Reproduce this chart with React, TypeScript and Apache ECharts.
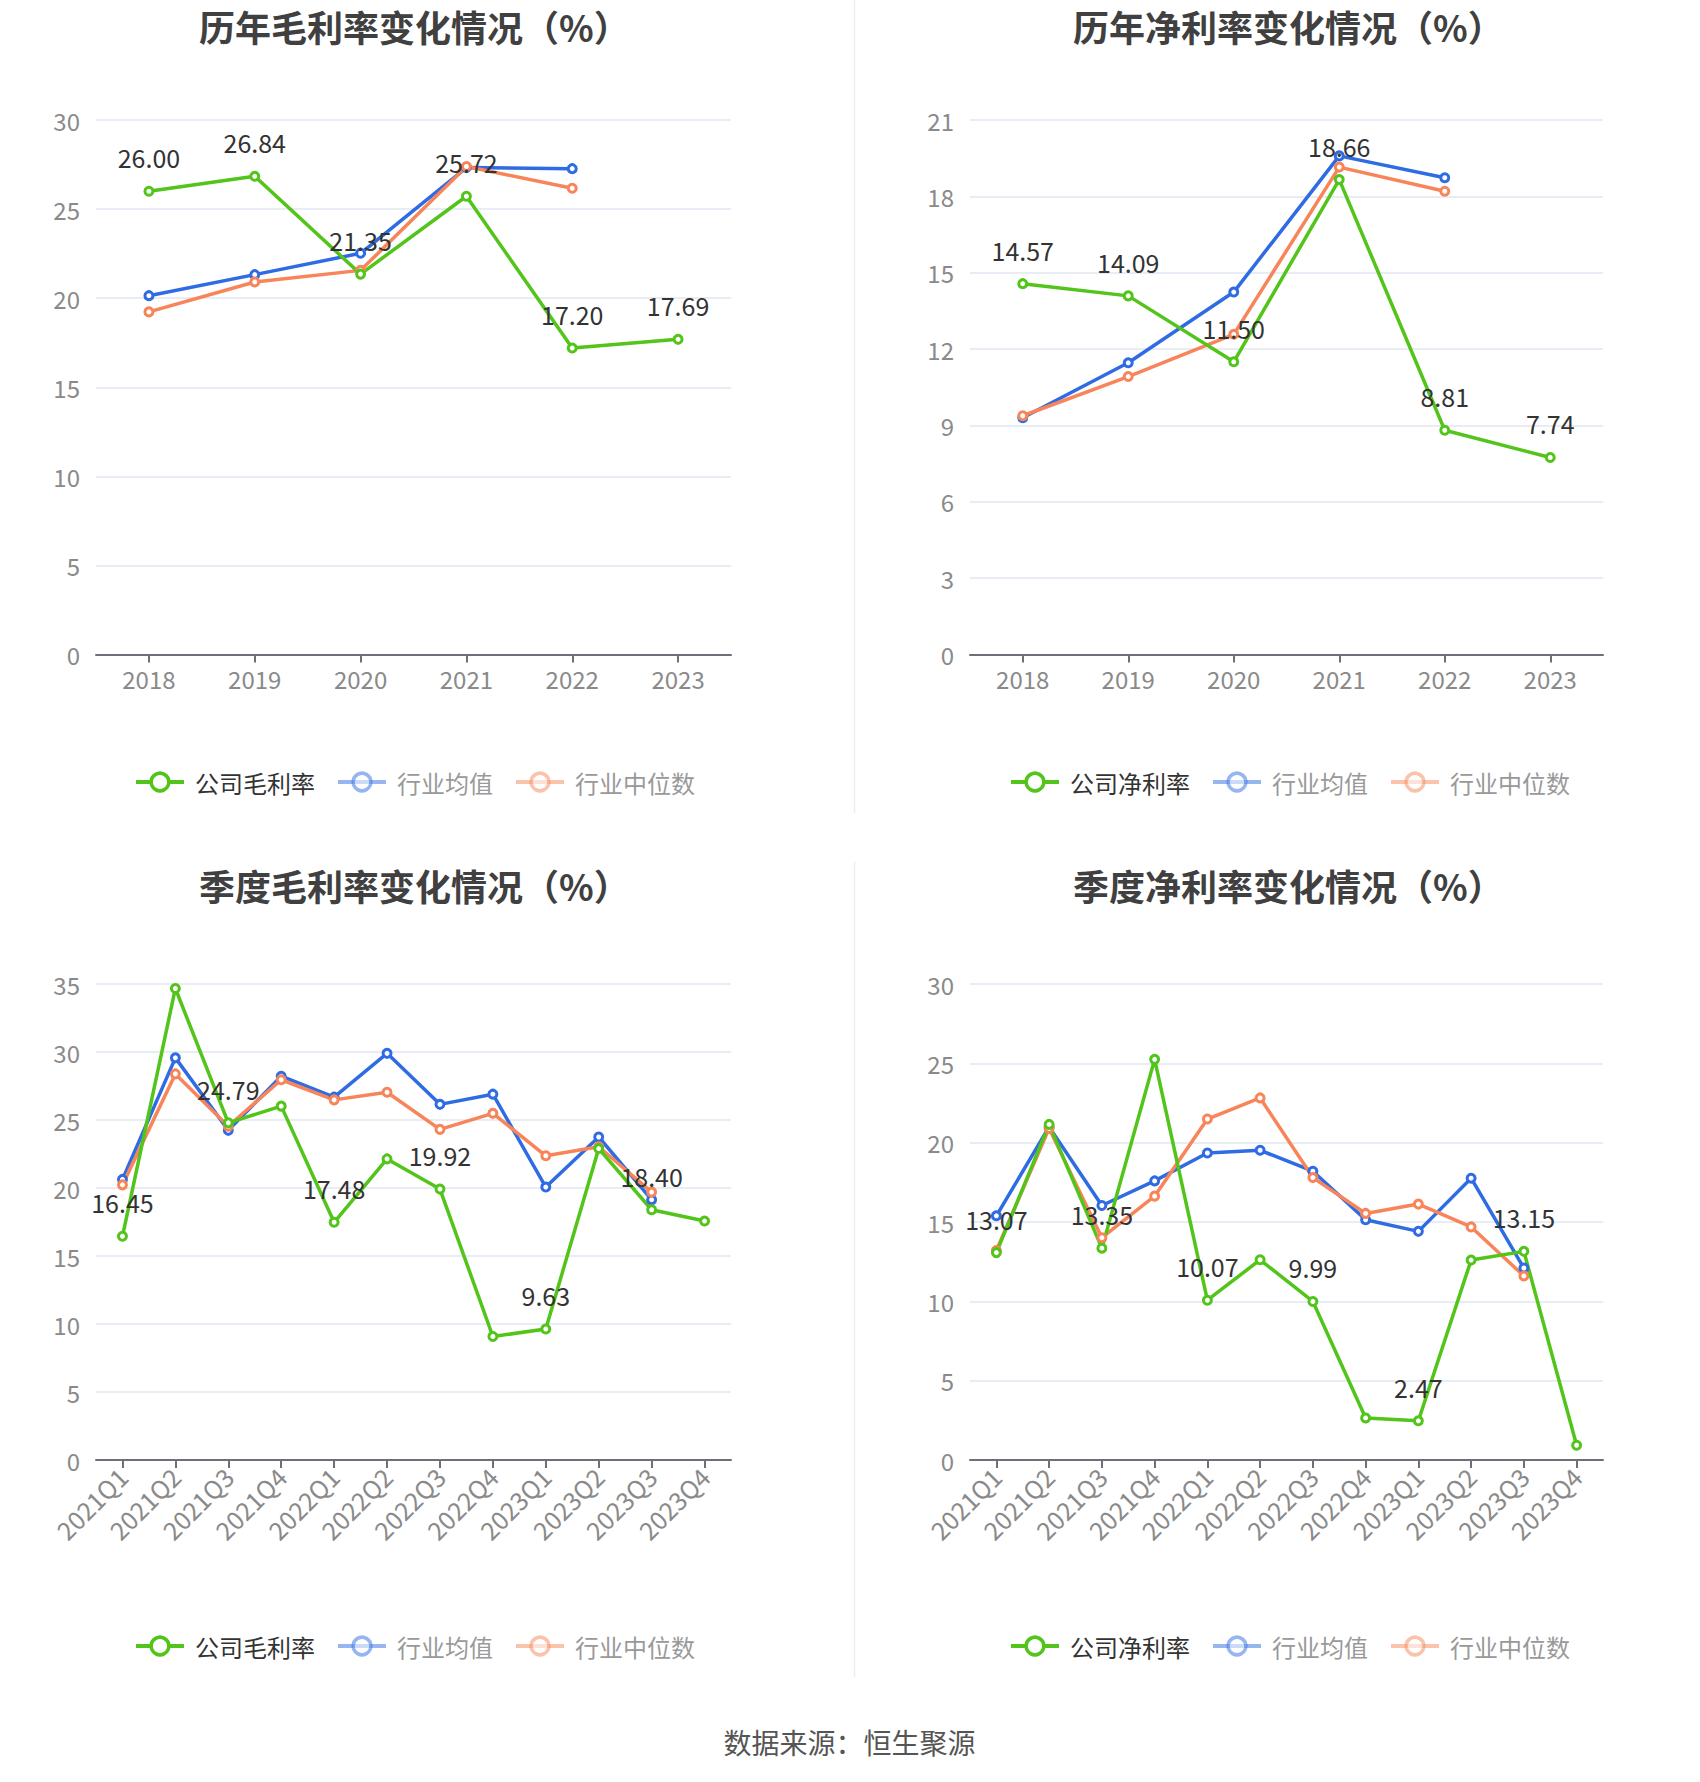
import React, { useEffect, useRef } from "react";
import * as echarts from "echarts";

const FONT = '"Noto Sans CJK SC", "Noto Sans", sans-serif';

const years = ["2018", "2019", "2020", "2021", "2022", "2023"];
const quarters = [
  "2021Q1", "2021Q2", "2021Q3", "2021Q4",
  "2022Q1", "2022Q2", "2022Q3", "2022Q4",
  "2023Q1", "2023Q2", "2023Q3", "2023Q4",
];

// 历年毛利率
const annualGrossCompany = [26.0, 26.84, 21.35, 25.72, 17.2, 17.69];
const annualGrossAvg = [20.14, 21.32, 22.52, 27.33, 27.27, null];
const annualGrossMedian = [19.23, 20.91, 21.56, 27.39, 26.17, null];

// 历年净利率
const annualNetCompany = [14.57, 14.09, 11.5, 18.66, 8.81, 7.74];
const annualNetAvg = [9.3, 11.46, 14.24, 19.59, 18.73, null];
const annualNetMedian = [9.38, 10.92, 12.58, 19.15, 18.2, null];

// 季度毛利率
const qGrossCompany = [16.45, 34.67, 24.79, 26.02, 17.48, 22.14, 19.92, 9.08, 9.63, 22.9, 18.4, 17.57];
const qGrossAvg = [20.63, 29.57, 24.24, 28.22, 26.68, 29.9, 26.15, 26.9, 20.07, 23.75, 19.14, null];
const qGrossMedian = [20.23, 28.39, 24.54, 27.96, 26.48, 27.04, 24.31, 25.49, 22.37, 23.03, 19.7, null];

// 季度净利率
const qNetCompany = [13.07, 21.15, 13.35, 25.25, 10.07, 12.62, 9.99, 2.65, 2.47, 12.6, 13.15, 0.93];
const qNetAvg = [15.39, 20.99, 16.04, 17.59, 19.35, 19.52, 18.2, 15.14, 14.41, 17.76, 12.1, null];
const qNetMedian = [13.2, 20.9, 14.01, 16.63, 21.49, 22.82, 17.8, 15.54, 16.13, 14.69, 11.6, null];

const annualLabelIdx = [0, 1, 2, 3, 4, 5];
const quarterLabelIdx = [0, 2, 4, 6, 8, 10];

const GREEN = "#52C41A";
const BLUE = "#2F6BE3";
const ORANGE = "#F8855A";

const panels = [
  {
    title: "历年毛利率变化情况（%）",
    companyName: "公司毛利率",
    cats: years, company: annualGrossCompany, avg: annualGrossAvg, median: annualGrossMedian,
    labelIdx: annualLabelIdx, max: 30, interval: 5, rotate: 0,
    left: 96, width: 635, top: 120, height: 534.5, titleLeft: 199, titleTop: 6, legendLeft: 134, legendTop: 770,
  },
  {
    title: "历年净利率变化情况（%）",
    companyName: "公司净利率",
    cats: years, company: annualNetCompany, avg: annualNetAvg, median: annualNetMedian,
    labelIdx: annualLabelIdx, max: 21, interval: 3, rotate: 0,
    left: 970, width: 633, top: 120, height: 534.5, titleLeft: 1073, titleTop: 6, legendLeft: 1009, legendTop: 770,
  },
  {
    title: "季度毛利率变化情况（%）",
    companyName: "公司毛利率",
    cats: quarters, company: qGrossCompany, avg: qGrossAvg, median: qGrossMedian,
    labelIdx: quarterLabelIdx, max: 35, interval: 5, rotate: 45,
    left: 96, width: 635, top: 984, height: 476, titleLeft: 199, titleTop: 865, legendLeft: 134, legendTop: 1634,
  },
  {
    title: "季度净利率变化情况（%）",
    companyName: "公司净利率",
    cats: quarters, company: qNetCompany, avg: qNetAvg, median: qNetMedian,
    labelIdx: quarterLabelIdx, max: 30, interval: 5, rotate: 45,
    left: 970, width: 633, top: 984, height: 476, titleLeft: 1073, titleTop: 865, legendLeft: 1009, legendTop: 1634,
  },
];

function buildOption() {
  const title: any[] = [];
  const grid: any[] = [];
  const xAxis: any[] = [];
  const yAxis: any[] = [];
  const legend: any[] = [];
  const series: any[] = [];

  panels.forEach((p, k) => {
    title.push({
      text: p.title,
      left: p.titleLeft,
      top: p.titleTop,
      padding: 0,
      textStyle: { fontFamily: FONT, fontSize: 36, fontWeight: "bold", color: "#404040", lineHeight: 40 },
    });
    grid.push({ left: p.left, width: p.width, top: p.top, height: p.height, containLabel: false });
    xAxis.push({
      type: "category",
      gridIndex: k,
      data: p.cats,
      boundaryGap: true,
      axisLine: { lineStyle: { color: "#6E7079", width: 2 } },
      axisTick: { show: true, alignWithLabel: true, length: 8, lineStyle: { color: "#6E7079", width: 2 } },
      axisLabel: {
        fontFamily: FONT, fontSize: p.rotate ? 25 : 24, color: "#8A8A8A",
        margin: 12, rotate: p.rotate, interval: 0,
      },
      splitLine: { show: false },
    });
    yAxis.push({
      type: "value",
      gridIndex: k,
      min: 0,
      max: p.max,
      interval: p.interval,
      axisLine: { show: false },
      axisTick: { show: false },
      axisLabel: { fontFamily: FONT, fontSize: 24, color: "#8A8A8A", margin: 16, padding: [0, 0, 3, 0] },
      splitLine: { lineStyle: { color: "#E0E6F1", width: 1.5 } },
    });
    legend.push({
      left: p.legendLeft,
      top: p.legendTop,
      padding: 0,
      itemWidth: 48,
      itemHeight: 22,
      itemGap: 21,
      itemStyle: { borderWidth: 3.5 },
      lineStyle: { width: 4 },
      textStyle: { fontFamily: FONT, fontSize: 24, padding: [0, 0, 0, 6] },
      data: [
        { name: p.companyName, textStyle: { color: "#333333" } },
        { name: "行业均值", textStyle: { color: "#999999" }, itemStyle: { opacity: 0.5 }, lineStyle: { opacity: 0.5 } },
        { name: "行业中位数", textStyle: { color: "#999999" }, itemStyle: { opacity: 0.5 }, lineStyle: { opacity: 0.5 } },
      ],
    });

    const base = {
      type: "line",
      xAxisIndex: k,
      yAxisIndex: k,
      symbol: "circle",
      symbolSize: 8,
      connectNulls: false,
    };
    series.push({
      ...base,
      name: "行业均值",
      data: p.avg,
      itemStyle: { color: "#ffffff", borderColor: BLUE, borderWidth: 3 },
      lineStyle: { color: BLUE, width: 3.5 },
    });
    series.push({
      ...base,
      name: "行业中位数",
      data: p.median,
      itemStyle: { color: "#ffffff", borderColor: ORANGE, borderWidth: 3 },
      lineStyle: { color: ORANGE, width: 3.5 },
    });
    series.push({
      ...base,
      name: p.companyName,
      data: p.company.map((v, i) => ({ value: v, label: { show: p.labelIdx.includes(i) } })),
      itemStyle: { color: "#ffffff", borderColor: GREEN, borderWidth: 3 },
      lineStyle: { color: GREEN, width: 3.5 },
      label: {
        show: false,
        position: "top",
        distance: 16,
        fontFamily: FONT,
        fontSize: 25,
        color: "#333333",
        formatter: (prm: any) => Number(prm.value).toFixed(2),
      },
      z: 3,
    });
  });

  return {
    animation: false,
    backgroundColor: "#ffffff",
    title,
    grid,
    xAxis,
    yAxis,
    legend,
    series,
    graphic: [
      { type: "line", shape: { x1: 854.5, y1: 0, x2: 854.5, y2: 813 }, style: { stroke: "#EEEEEE", lineWidth: 1.5 } },
      { type: "line", shape: { x1: 854.5, y1: 862, x2: 854.5, y2: 1677 }, style: { stroke: "#EEEEEE", lineWidth: 1.5 } },
      {
        type: "text",
        x: 849.5,
        y: 1742,
        style: {
          text: "数据来源：恒生聚源",
          fontFamily: FONT,
          fontSize: 28,
          fill: "#555555",
          textAlign: "center",
          textVerticalAlign: "middle",
        },
      },
    ],
  };
}

export default function App() {
  const ref = useRef<HTMLDivElement>(null);
  useEffect(() => {
    document.body.style.margin = "0";
    if (!ref.current) return;
    const chart = echarts.init(ref.current, undefined, { renderer: "svg" });
    chart.setOption(buildOption() as any);
    return () => chart.dispose();
  }, []);
  return <div ref={ref} style={{ width: 1700, height: 1782, background: "#fff" }} />;
}
